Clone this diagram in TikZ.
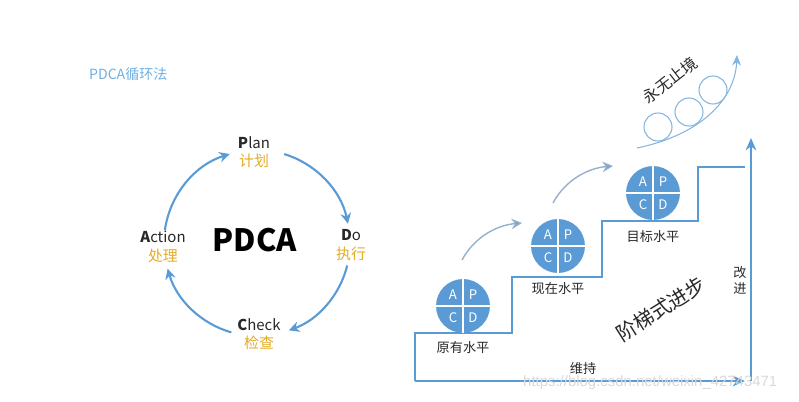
\documentclass[tikz,border=0pt]{standalone}
\usepackage{fontspec}
\setmainfont{Noto Sans CJK SC}
\newfontfamily\wmfont{Liberation Sans}
\usetikzlibrary{arrows.meta,positioning}

\definecolor{pdcablue}{RGB}{91,155,213}
\definecolor{pdcagold}{RGB}{228,172,36}
\definecolor{titleblue}{RGB}{112,176,226}
\definecolor{hopgray}{RGB}{150,176,204}
\definecolor{textdark}{RGB}{40,40,40}

\tikzset{
  cyclearrow/.style={pdcablue,line width=1.2pt,-{Stealth[length=6pt,width=6pt]}},
  cyclelabel/.style={align=center,text=textdark,font=\fontsize{8.5}{10.5}\selectfont},
  stairline/.style={pdcablue,line width=1.5pt},
  axisarrow/.style={pdcablue,line width=1.5pt,-{Stealth[length=7pt,width=6pt]}},
  apcd/.style={circle,fill=pdcablue,minimum size=1.08cm,inner sep=0pt},
  divider/.style={white,line width=0.8pt},
  apcdtext/.style={text=white,font=\fontsize{7.5}{9}\selectfont},
  steplabel/.style={text=textdark,inner sep=1pt,font=\fontsize{7.5}{9}\selectfont},
  hoparrow/.style={hopgray,line width=0.8pt,-{Stealth[length=6pt,width=6pt,fill=pdcablue]}},
  hoop/.style={pdcablue!75,line width=0.6pt}
}

\begin{document}
\begin{tikzpicture}[x=0.02cm,y=-0.02cm]
  \useasboundingbox (0,0) rectangle (799,402);

  % Title
  \node[text=titleblue,anchor=west,font=\fontsize{8}{10}\selectfont] (title) at (83,74) {PDCA循环法};

  % PDCA cycle
  \coordinate (cyc) at (257,243);
  \node[font=\bfseries\fontsize{17.5}{20}\selectfont,text=black] (core) at (255,240) {PDCA};
  \node[cyclelabel] (plan)   at (254,152) {{\bfseries P}lan\\{\color{pdcagold}计划}};
  \node[cyclelabel] (do)     at (351,245) {{\bfseries D}o\\{\color{pdcagold}执行}};
  \node[cyclelabel] (check)  at (259,334) {{\bfseries C}heck\\{\color{pdcagold}检查}};
  \node[cyclelabel] (action) at (163,247) {{\bfseries A}ction\\{\color{pdcagold}处理}};

  \draw[cyclearrow] (cyc) ++(-73:93) arc[start angle=-73,end angle=-12,radius=93];
  \draw[cyclearrow] (cyc) ++(14:93)  arc[start angle=14,end angle=70,radius=93];
  \draw[cyclearrow] (cyc) ++(106:93) arc[start angle=106,end angle=164,radius=93];
  \draw[cyclearrow] (cyc) ++(188:93) arc[start angle=188,end angle=253,radius=93];

  % Staircase
  \coordinate (base) at (415,381);
  \coordinate (baseend) at (745,381);
  \coordinate (riseend) at (751,138);
  \draw[stairline] (base) |- (512,333) |- (602,277) |- (698,221) |- (745,167);
  \draw[axisarrow] (base) -- (baseend);
  \draw[axisarrow] (751,381) -- (riseend);

  % Levels
  \foreach \n/\x/\y in {lvl1/463/306, lvl2/558/246, lvl3/653/193} {
    \node[apcd] (\n) at (\x,\y) {};
    \draw[divider] (\n.north) -- (\n.south);
    \draw[divider] (\n.west) -- (\n.east);
    \node[apcdtext] at ([xshift=-0.2cm,yshift=0.23cm]\n.center) {A};
    \node[apcdtext] at ([xshift=0.2cm,yshift=0.23cm]\n.center) {P};
    \node[apcdtext] at ([xshift=-0.2cm,yshift=-0.23cm]\n.center) {C};
    \node[apcdtext] at ([xshift=0.2cm,yshift=-0.23cm]\n.center) {D};
  }
  \node[steplabel,below=0.12cm of lvl1] (lbl1) {原有水平};
  \node[steplabel,below=0.14cm of lvl2] (lbl2) {现在水平};
  \node[steplabel,below=0.16cm of lvl3] (lbl3) {目标水平};

  % Hops between levels
  \coordinate (hop1s) at (462,260);
  \coordinate (hop1e) at (522,223);
  \coordinate (hop2s) at (553,203);
  \coordinate (hop2e) at (613,166);
  \draw[hoparrow] (hop1s) .. controls (475,236) and (498,225) .. (hop1e);
  \draw[hoparrow] (hop2s) .. controls (566,179) and (589,168) .. (hop2e);

  % Endless rise
  \coordinate (rises) at (637,148);
  \coordinate (risee) at (737,55);
  \draw[hoop,-{Stealth[length=6pt,width=5pt]}] (rises) .. controls (700,135) and (735,100) .. (risee);
  \draw[hoop] (658,127) circle (14);
  \draw[hoop] (689,112) circle (14);
  \draw[hoop] (713,90) circle (14);
  \node[text=textdark,rotate=38,font=\fontsize{9}{10}\selectfont] (endless) at (670,80) {永无止境};

  % Other labels
  \node[text=textdark,rotate=32,font=\fontsize{11.5}{13}\selectfont] (stepwise) at (661,309) {阶梯式进步};
  \node[steplabel,align=center,font=\fontsize{7.5}{9.2}\selectfont] (improve) at (740,280) {改\\进};
  \node[steplabel] (keep) at (583,369) {维持};

  % Watermark
  \node[text=gray!30,anchor=west,font=\wmfont\fontsize{8.5}{10}\selectfont] (mark) at (517,383) {https://blog.csdn.net/weixin\_42743471};
\end{tikzpicture}
\end{document}
